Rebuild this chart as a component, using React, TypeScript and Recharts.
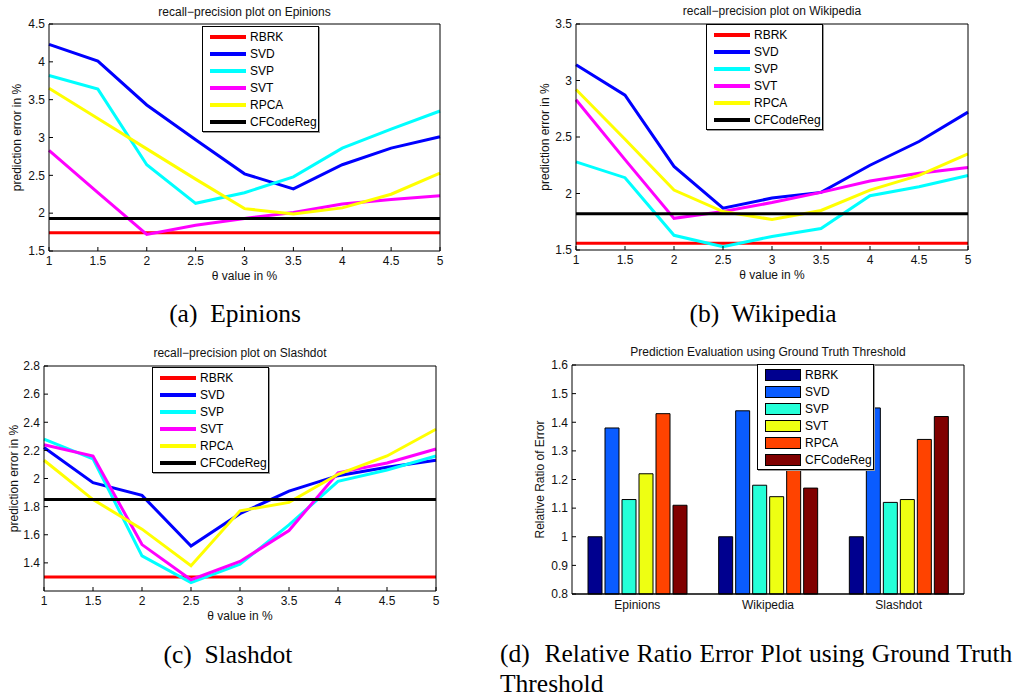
import React from 'react';
import { LineChart, Line, BarChart, Bar, XAxis, YAxis, Legend } from 'recharts';

const SANS = '"Liberation Sans", Arial, sans-serif';
const SERIF = '"Liberation Serif", "Times New Roman", serif';

const thetas = [1, 1.5, 2, 2.5, 3, 3.5, 4, 4.5, 5];
const methods = ['RBRK', 'SVD', 'SVP', 'SVT', 'RPCA', 'CFCodeReg'];
const lineColors = ['#ff0000', '#0000ff', '#00ffff', '#ff00ff', '#ffff00', '#000000'];
const barColors = ['#00008f', '#0a5cff', '#25ffd8', '#eeff12', '#ff4300', '#800000'];

// (a) Epinions
const epRBRK = [1.74, 1.74, 1.74, 1.74, 1.74, 1.74, 1.74, 1.74, 1.74];
const epSVD = [4.23, 4.01, 3.43, 2.97, 2.52, 2.32, 2.64, 2.86, 3.01];
const epSVP = [3.82, 3.64, 2.64, 2.13, 2.27, 2.48, 2.86, 3.11, 3.35];
const epSVT = [2.83, 2.27, 1.72, 1.84, 1.93, 2.01, 2.12, 2.18, 2.23];
const epRPCA = [3.65, 3.25, 2.85, 2.45, 2.06, 1.99, 2.07, 2.25, 2.53];
const epCF = [1.93, 1.93, 1.93, 1.93, 1.93, 1.93, 1.93, 1.93, 1.93];

// (b) Wikipedia
const wkRBRK = [1.56, 1.56, 1.56, 1.56, 1.56, 1.56, 1.56, 1.56, 1.56];
const wkSVD = [3.14, 2.87, 2.24, 1.87, 1.96, 2.01, 2.25, 2.46, 2.72];
const wkSVP = [2.28, 2.14, 1.63, 1.53, 1.62, 1.69, 1.98, 2.06, 2.16];
const wkSVT = [2.83, 2.3, 1.78, 1.84, 1.92, 2.01, 2.11, 2.18, 2.23];
const wkRPCA = [2.92, 2.48, 2.03, 1.84, 1.77, 1.85, 2.03, 2.16, 2.35];
const wkCF = [1.82, 1.82, 1.82, 1.82, 1.82, 1.82, 1.82, 1.82, 1.82];

// (c) Slashdot
const sdRBRK = [1.3, 1.3, 1.3, 1.3, 1.3, 1.3, 1.3, 1.3, 1.3];
const sdSVD = [2.22, 1.97, 1.88, 1.52, 1.75, 1.91, 2.02, 2.08, 2.13];
const sdSVP = [2.28, 2.14, 1.45, 1.26, 1.39, 1.67, 1.98, 2.06, 2.16];
const sdSVT = [2.24, 2.16, 1.53, 1.28, 1.41, 1.63, 2.04, 2.11, 2.21];
const sdRPCA = [2.13, 1.85, 1.64, 1.38, 1.77, 1.83, 2.03, 2.16, 2.35];
const sdCF = [1.85, 1.85, 1.85, 1.85, 1.85, 1.85, 1.85, 1.85, 1.85];

// (d) relative ratio of error
const datasets = ['Epinions', 'Wikipedia', 'Slashdot'];
const barRBRK = [1.0, 1.0, 1.0];
const barSVD = [1.38, 1.44, 1.45];
const barSVP = [1.13, 1.18, 1.12];
const barSVT = [1.22, 1.14, 1.13];
const barRPCA = [1.43, 1.42, 1.34];
const barCF = [1.11, 1.17, 1.42];

const thetaTicks = [1, 1.5, 2, 2.5, 3, 3.5, 4, 4.5, 5];
const epTicks = [1.5, 2, 2.5, 3, 3.5, 4, 4.5];
const wkTicks = [1.5, 2, 2.5, 3, 3.5];
const sdTicks = [1.4, 1.6, 1.8, 2, 2.2, 2.4, 2.6, 2.8];
const barTicks = [0.8, 0.9, 1, 1.1, 1.2, 1.3, 1.4, 1.5, 1.6];

const tickStyle = { fill: '#111', fontSize: 12, fontFamily: SANS };

function buildRows(series: number[][]) {
  return thetas.map((t, i) => {
    const row: Record<string, number> = { theta: t };
    methods.forEach((m, k) => { row[m] = series[k][i]; });
    return row;
  });
}

const barRows = datasets.map((name, i) => ({
  name,
  RBRK: barRBRK[i], SVD: barSVD[i], SVP: barSVP[i],
  SVT: barSVT[i], RPCA: barRPCA[i], CFCodeReg: barCF[i],
}));

// matlab style legend box
const legendBox = (kind: 'line' | 'bar') => () => (
  <div style={{
    border: '1px solid #000', background: '#fff', padding: '1px 0 1px 7px',
    boxShadow: '1px 1px 0 #9a9a9a', fontFamily: SANS, fontSize: 12, color: '#000',
  }}>
    {methods.map((m, k) => (
      <div key={m} style={{ display: 'flex', alignItems: 'center', height: 17 }}>
        {kind === 'line'
          ? <div style={{ width: 36, height: 4, background: lineColors[k] }} />
          : <div style={{ width: 36, height: 12, boxSizing: 'border-box', border: '1px solid #000', background: barColors[k] }} />}
        <span style={{ marginLeft: 4 }}>{m}</span>
      </div>
    ))}
  </div>
);

interface PanelProps {
  left: number; top: number; width: number; height: number;
  margin: { top: number; right: number; bottom: number; left: number };
  yWidth: number; yLabelOffset: number; titleOffset: number;
  title: string; domain: [number, number]; ticks: number[];
  legendAt: { left: number; top: number };
  series: number[][];
}

const LinePanel: React.FC<PanelProps> = (p) => (
  <div style={{ position: 'absolute', left: p.left, top: p.top, fontFamily: SANS }}>
    <LineChart width={p.width} height={p.height} data={buildRows(p.series)} margin={p.margin}>
      <XAxis dataKey="theta" type="number" domain={[1, 5]} ticks={thetaTicks} height={30}
        stroke="#000" tickSize={-4} tickMargin={9} tick={tickStyle}
        label={{ value: 'θ value in %', position: 'insideBottom', offset: 1, fill: '#111', fontSize: 12 }} />
      <XAxis xAxisId="top" orientation="top" dataKey="theta" type="number" domain={[1, 5]} ticks={thetaTicks}
        height={1} stroke="#000" tickSize={-4} tick={false}
        label={{ value: p.title, position: 'top', offset: p.titleOffset, fill: '#111', fontSize: 12 }} />
      <YAxis type="number" domain={p.domain} ticks={p.ticks} width={p.yWidth} stroke="#000"
        tickSize={-4} tickMargin={8} tick={tickStyle} allowDataOverflow
        label={{ value: 'prediction error in %', angle: -90, position: 'insideLeft', offset: p.yLabelOffset,
          fill: '#111', fontSize: 12, style: { textAnchor: 'middle' } }} />
      <YAxis yAxisId="right" orientation="right" type="number" domain={p.domain} ticks={p.ticks}
        width={1} stroke="#000" tickSize={-4} tick={false} allowDataOverflow />
      <Legend layout="vertical" align="center" verticalAlign="middle" content={legendBox('line')}
        wrapperStyle={{ left: p.legendAt.left, top: p.legendAt.top, width: 117 }} />
      {methods.map((m, k) => (
        <Line key={m} dataKey={m} name={m} type="linear" stroke={lineColors[k]} strokeWidth={3}
          dot={false} activeDot={false} isAnimationActive={false} />
      ))}
    </LineChart>
  </div>
);

const Caption: React.FC<{ center: number; top: number; text: string }> = ({ center, top, text }) => (
  <div style={{
    position: 'absolute', left: center - 150, top, width: 300, textAlign: 'center',
    fontFamily: SERIF, fontSize: 25.5, lineHeight: 1, whiteSpace: 'pre', color: '#000',
  }}>{text}</div>
);

export default function App() {
  return (
    <div style={{ position: 'absolute', left: 0, top: 0, width: 1021, height: 700, background: '#fff', overflow: 'hidden' }}>
      <LinePanel left={0} top={0} width={470} height={290}
        margin={{ top: 23, right: 29, bottom: 9, left: 9 }} yWidth={40} yLabelOffset={8} titleOffset={7}
        title="recall−precision plot on Epinions" domain={[1.5, 4.5]} ticks={epTicks}
        legendAt={{ left: 202, top: 26 }}
        series={[epRBRK, epSVD, epSVP, epSVT, epRPCA, epCF]} />
      <LinePanel left={510} top={0} width={510} height={290}
        margin={{ top: 23, right: 51, bottom: 10, left: 26 }} yWidth={40} yLabelOffset={9} titleOffset={8}
        title="recall−precision plot on Wikipedia" domain={[1.5, 3.5]} ticks={wkTicks}
        legendAt={{ left: 196, top: 24 }}
        series={[wkRBRK, wkSVD, wkSVP, wkSVT, wkRPCA, wkCF]} />
      <LinePanel left={0} top={340} width={470} height={290}
        margin={{ top: 25, right: 33, bottom: 9, left: 8 }} yWidth={36} yLabelOffset={6} titleOffset={8}
        title="recall−precision plot on Slashdot" domain={[1.2, 2.8]} ticks={sdTicks}
        legendAt={{ left: 152, top: 27 }}
        series={[sdRBRK, sdSVD, sdSVP, sdSVT, sdRPCA, sdCF]} />

      <div style={{ position: 'absolute', left: 510, top: 340, fontFamily: SANS }}>
        <BarChart width={510} height={290} data={barRows} margin={{ top: 24, right: 55, bottom: 6, left: 22 }}
          barSize={14} barGap={3}>
          <XAxis dataKey="name" height={30} stroke="#000" strokeWidth={1.5} tickLine={false} tickSize={0} tickMargin={6} tick={tickStyle} />
          <XAxis xAxisId="top" orientation="top" dataKey="name" height={1} stroke="#000" tickLine={false} tick={false}
            label={{ value: 'Prediction Evaluation using Ground Truth Threshold', position: 'top', offset: 8, fill: '#111', fontSize: 12 }} />
          <YAxis type="number" domain={[0.8, 1.6]} ticks={barTicks} width={40} stroke="#000"
            tickSize={-4} tickMargin={8} tick={tickStyle}
            label={{ value: 'Relative Ratio of Error', angle: -90, position: 'insideLeft', offset: 8,
              fill: '#111', fontSize: 12, style: { textAnchor: 'middle' } }} />
          <YAxis yAxisId="right" orientation="right" type="number" domain={[0.8, 1.6]} ticks={barTicks}
            width={1} stroke="#000" tickSize={-4} tick={false} />
          <Legend layout="vertical" align="center" verticalAlign="middle" content={legendBox('bar')}
            wrapperStyle={{ left: 247, top: 24, width: 117 }} />
          {methods.map((m, k) => (
            <Bar key={m} dataKey={m} name={m} fill={barColors[k]} stroke="#000" strokeWidth={1}
              isAnimationActive={false} />
          ))}
        </BarChart>
      </div>

      <Caption center={235} top={301} text="(a)  Epinions" />
      <Caption center={763} top={301} text="(b)  Wikipedia" />
      <Caption center={228} top={642} text="(c)  Slashdot" />
      <div style={{
        position: 'absolute', left: 500, top: 639, fontFamily: SERIF, fontSize: 25.5,
        lineHeight: '30px', whiteSpace: 'pre', color: '#000',
      }}>
        <span style={{ wordSpacing: '1px' }}>{'(d)  Relative Ratio Error Plot using Ground Truth'}</span>
        <br />{'Threshold'}
      </div>
    </div>
  );
}
